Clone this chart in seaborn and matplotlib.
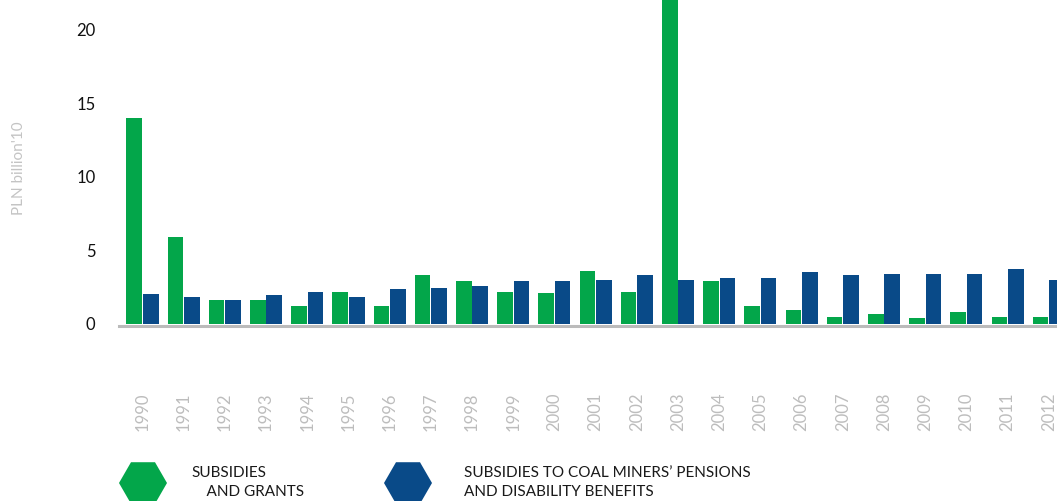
import numpy as np
import pandas as pd
import matplotlib
matplotlib.use("Agg")
import matplotlib.pyplot as plt
from matplotlib.patches import RegularPolygon
import seaborn as sns

years = [str(y) for y in range(1990, 2013)]
subsidies_grants = [14.0, 5.9, 1.65, 1.65, 1.25, 2.2, 1.25, 3.35, 2.95, 2.2, 2.1, 3.6, 2.2,
                    25.0, 2.95, 1.25, 0.95, 0.5, 0.65, 0.4, 0.8, 0.5, 0.5]
miners_pensions = [2.05, 1.8, 1.6, 1.95, 2.2, 1.8, 2.35, 2.45, 2.6, 2.9, 2.9, 3.0, 3.3,
                   3.0, 3.15, 3.15, 3.55, 3.3, 3.4, 3.4, 3.4, 3.75, 3.0]
series_names = ["SUBSIDIES\n    AND GRANTS",
                "SUBSIDIES TO COAL MINERS\u2019 PENSIONS\nAND DISABILITY BENEFITS"]
colors = ["#03A64A", "#094A88"]
yticks = [0, 5, 10, 15, 20]

df = pd.DataFrame({
    "year": years * 2,
    "value": subsidies_grants + miners_pensions,
    "series": [series_names[0]] * len(years) + [series_names[1]] * len(years),
})

sns.set_theme(style="white")
plt.rcParams["font.family"] = ["Lato", "DejaVu Sans"]

W, H = 1057, 501
fig = plt.figure(figsize=(W / 100, H / 100), dpi=100)
ax = fig.add_axes([119 / W, (H - 324) / H, 1 - 119 / W, 324 / H])

sns.barplot(data=df, x="year", y="value", hue="series", palette=colors,
            width=0.8, gap=0.05, legend=False, ax=ax, saturation=1,
            linewidth=0)

ax.set_xlim(-0.57, 22.2)
ax.set_ylim(0, 22)
ax.set_yticks(yticks)
ax.set_yticklabels([str(t) for t in yticks], fontsize=12, color="#111111")
ax.tick_params(axis="y", length=0, pad=17)
ax.tick_params(axis="x", length=0, pad=48, labelrotation=90, labelsize=12,
               labelcolor="#BDBDBD")
ax.set_xlabel("")
ax.set_ylabel("")
for s in ["top", "right", "left"]:
    ax.spines[s].set_visible(False)
ax.spines["bottom"].set_color("#BBBBBB")
ax.spines["bottom"].set_linewidth(2.2)
ax.spines["bottom"].set_position(("outward", 1.5))

fig.text(19 / W, 1 - 168 / H, "PLN billion'10", rotation=90, ha="center", va="center",
         fontsize=11, color="#C4C4C4")

# Legend overlay
lax = fig.add_axes([0, 0, 1, 1], zorder=5)
lax.set_xlim(0, W)
lax.set_ylim(H, 0)
lax.axis("off")
lax.patch.set_alpha(0)
hex_x = [143, 408]
text_x = [191, 464]
for hx, tx, c, name in zip(hex_x, text_x, colors, series_names):
    lax.add_patch(RegularPolygon((hx, 483), numVertices=6, radius=24,
                                 orientation=np.pi / 6, color=c, lw=0))
    lax.text(tx, 466, name, ha="left", va="top", fontsize=11, color="#1a1a1a",
             linespacing=1.45)

fig.savefig("out.png", dpi=100)
